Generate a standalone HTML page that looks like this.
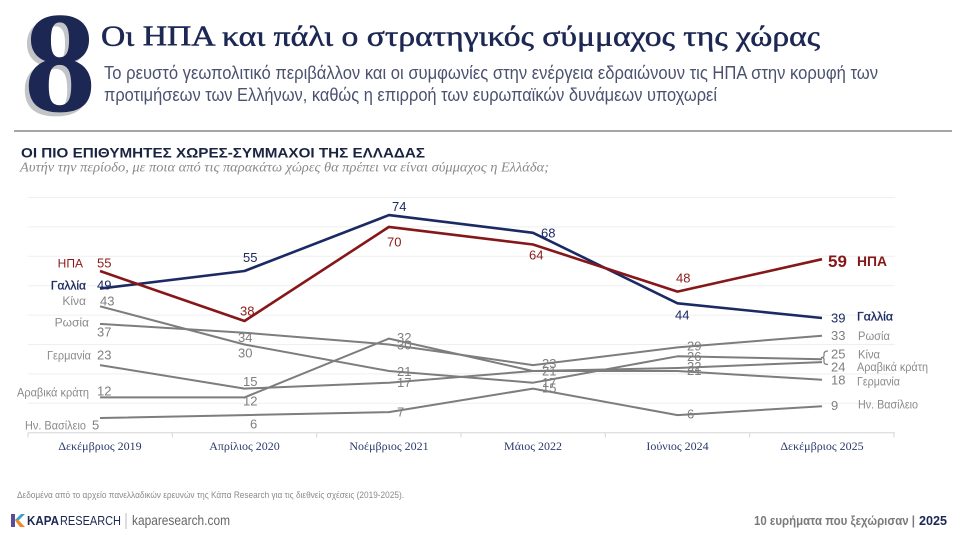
<!DOCTYPE html>
<html>
<head>
<meta charset="utf-8">
<style>
  html,body{margin:0;padding:0;background:#fff;}
  svg{display:block;}
</style>
</head>
<body>
<svg width="960" height="540" viewBox="0 0 960 540" xmlns="http://www.w3.org/2000/svg">
  <rect width="960" height="540" fill="#ffffff"/>

  <!-- Big 8 with shadow -->
  <text x="20" y="115" font-family="Liberation Serif, serif" font-weight="bold" font-size="144" fill="#c2c4c8">8</text>
  <text x="24" y="111" font-family="Liberation Serif, serif" font-weight="bold" font-size="144" fill="#1c2853">8</text>

  <!-- Title -->
  <text x="101" y="45.5" font-family="Liberation Serif, serif" font-size="29" fill="#1c2853" stroke="#1c2853" stroke-width="0.5" textLength="719" lengthAdjust="spacingAndGlyphs">Οι ΗΠΑ και πάλι ο στρατηγικός σύμμαχος της χώρας</text>
  <!-- Subtitle -->
  <text x="104" y="79" font-family="Liberation Sans, sans-serif" font-size="18" fill="#4a5270" textLength="774" lengthAdjust="spacingAndGlyphs">Το ρευστό γεωπολιτικό περιβάλλον και οι συμφωνίες στην ενέργεια εδραιώνουν τις ΗΠΑ στην κορυφή των</text>
  <text x="104" y="101" font-family="Liberation Sans, sans-serif" font-size="18" fill="#4a5270" textLength="613" lengthAdjust="spacingAndGlyphs">προτιμήσεων των Ελλήνων, καθώς η επιρροή των ευρωπαϊκών δυνάμεων υποχωρεί</text>

  <!-- Separator -->
  <line x1="14" y1="131" x2="952" y2="131" stroke="#9a9a9a" stroke-width="1.8"/>

  <!-- Chart heading -->
  <text x="21" y="157.5" font-family="Liberation Sans, sans-serif" font-weight="bold" font-size="14" fill="#1a2340" textLength="404" lengthAdjust="spacingAndGlyphs">ΟΙ ΠΙΟ ΕΠΙΘΥΜΗΤΕΣ ΧΩΡΕΣ-ΣΥΜΜΑΧΟΙ ΤΗΣ ΕΛΛΑΔΑΣ</text>
  <text x="20" y="171.5" font-family="Liberation Serif, serif" font-style="italic" font-size="13.5" fill="#8a8a8a" textLength="529" lengthAdjust="spacingAndGlyphs">Αυτήν την περίοδο, με ποια από τις παρακάτω χώρες θα πρέπει να είναι σύμμαχος η Ελλάδα;</text>

  <!-- Gridlines -->
  <g stroke="#efefef" stroke-width="1">
    <line x1="28" y1="197.5" x2="895" y2="197.5"/>
    <line x1="28" y1="226.9" x2="895" y2="226.9"/>
    <line x1="28" y1="256.3" x2="895" y2="256.3"/>
    <line x1="28" y1="285.7" x2="895" y2="285.7"/>
    <line x1="28" y1="315.1" x2="895" y2="315.1"/>
    <line x1="28" y1="344.5" x2="895" y2="344.5"/>
    <line x1="28" y1="373.9" x2="895" y2="373.9"/>
    <line x1="28" y1="403.3" x2="895" y2="403.3"/>
  </g>
  <!-- Axis baseline and ticks -->
  <g stroke="#d6d6d6" stroke-width="1">
    <line x1="28" y1="432.7" x2="895" y2="432.7"/>
    <line x1="28" y1="432.7" x2="28" y2="437.5"/>
    <line x1="172.3" y1="432.7" x2="172.3" y2="437.5"/>
    <line x1="316.7" y1="432.7" x2="316.7" y2="437.5"/>
    <line x1="461" y1="432.7" x2="461" y2="437.5"/>
    <line x1="605.3" y1="432.7" x2="605.3" y2="437.5"/>
    <line x1="749.7" y1="432.7" x2="749.7" y2="437.5"/>
    <line x1="894" y1="432.7" x2="894" y2="437.5"/>
  </g>

  <!-- X axis labels -->
  <g font-family="Liberation Serif, serif" font-size="12" fill="#2b3a6b" text-anchor="middle">
    <text x="100" y="450">Δεκέμβριος 2019</text>
    <text x="244.5" y="450">Απρίλιος 2020</text>
    <text x="389" y="450">Νοέμβριος 2021</text>
    <text x="533" y="450">Μάιος 2022</text>
    <text x="677.5" y="450">Ιούνιος 2024</text>
    <text x="822" y="450">Δεκέμβριος 2025</text>
  </g>

  <!-- Gray series -->
  <g fill="none" stroke="#7d7d7d" stroke-width="2" stroke-linejoin="round">
    <polyline points="100,306.3 244.5,344.5 389,371.0 533,382.7 677.5,356.3 822,359.2"/>
    <polyline points="100,323.9 244.5,332.7 389,344.5 533,365.1 677.5,347.4 822,335.7"/>
    <polyline points="100,365.1 244.5,388.6 389,382.7 533,371.0 677.5,371.0 822,379.8"/>
    <polyline points="100,397.4 244.5,397.4 389,338.6 533,371.0 677.5,368.0 822,362.1"/>
    <polyline points="100,418.0 244.5,415.1 389,412.1 533,388.6 677.5,415.1 822,406.2"/>
  </g>
  <!-- Γαλλία -->
  <polyline fill="none" stroke="#1c2a63" stroke-width="2.6" stroke-linejoin="round" points="100,288.6 244.5,271.0 389,215.1 533,232.8 677.5,303.3 822,318.0"/>
  <!-- ΗΠΑ -->
  <polyline fill="none" stroke="#861719" stroke-width="2.6" stroke-linejoin="round" points="100,271.0 244.5,321.0 389,226.9 533,244.5 677.5,291.6 822,259.2"/>

  <!-- Bracket at Dec 2025 -->
  <path d="M828,351 Q824,351 824,354 L824,356 Q824,357.5 821,357.5 Q824,357.5 824,359 L824,362 Q824,364.5 828,364.5" fill="none" stroke="#7d7d7d" stroke-width="1.2"/>

  <!-- Left country labels -->
  <g font-family="Liberation Sans, sans-serif" font-size="12" text-anchor="end">
    <text x="83" y="267.5" fill="#8b1a1a">ΗΠΑ</text>
    <text x="86" y="289.5" fill="#1c2a63" stroke="#1c2a63" stroke-width="0.3">Γαλλία</text>
    <text x="86" y="305" fill="#8a8a8a">Κίνα</text>
    <text x="89" y="326.5" fill="#8a8a8a">Ρωσία</text>
    <text x="91" y="359.5" fill="#8a8a8a" textLength="44" lengthAdjust="spacingAndGlyphs">Γερμανία</text>
    <text x="89" y="396.5" fill="#8a8a8a" textLength="72" lengthAdjust="spacingAndGlyphs">Αραβικά κράτη</text>
    <text x="86" y="429.5" fill="#8a8a8a" textLength="61" lengthAdjust="spacingAndGlyphs">Ην. Βασίλειο</text>
  </g>

  <!-- Data labels -->
  <g font-family="Liberation Sans, sans-serif" font-size="13">
    <text x="97" y="267.5" fill="#8b1a1a">55</text>
    <text x="97" y="289.5" fill="#1c2a63">49</text>
    <text x="100" y="305.5" fill="#7f7f7f">43</text>
    <text x="97" y="336.5" fill="#7f7f7f">37</text>
    <text x="97" y="359.5" fill="#7f7f7f">23</text>
    <text x="97" y="395.5" fill="#7f7f7f">12</text>
    <text x="92" y="429.5" fill="#7f7f7f">5</text>
    <text x="243" y="262" fill="#1c2a63">55</text>
    <text x="240" y="315.5" fill="#8b1a1a">38</text>
    <text x="238" y="342" fill="#7f7f7f">34</text>
    <text x="238" y="357.5" fill="#7f7f7f">30</text>
    <text x="243" y="386" fill="#7f7f7f">15</text>
    <text x="243" y="405.5" fill="#7f7f7f">12</text>
    <text x="250" y="428.5" fill="#7f7f7f">6</text>
    <text x="392" y="211" fill="#1c2a63">74</text>
    <text x="387" y="246.5" fill="#8b1a1a">70</text>
    <text x="397" y="342" fill="#7f7f7f">32</text>
    <text x="397" y="349.5" fill="#7f7f7f">30</text>
    <text x="397" y="376" fill="#7f7f7f">21</text>
    <text x="397" y="387" fill="#7f7f7f">17</text>
    <text x="397" y="416.5" fill="#7f7f7f">7</text>
    <text x="541" y="237.5" fill="#1c2a63">68</text>
    <text x="529" y="259.5" fill="#8b1a1a">64</text>
    <text x="542" y="368" fill="#7f7f7f">23</text>
    <text x="542" y="375.5" fill="#7f7f7f">21</text>
    <text x="542" y="387" fill="#7f7f7f">17</text>
    <text x="542" y="392.5" fill="#7f7f7f">15</text>
    <text x="676" y="282.5" fill="#8b1a1a">48</text>
    <text x="675" y="319.5" fill="#1c2a63">44</text>
    <text x="687" y="350.5" fill="#7f7f7f">29</text>
    <text x="687" y="361" fill="#7f7f7f">26</text>
    <text x="687" y="371" fill="#7f7f7f">22</text>
    <text x="687" y="375" fill="#7f7f7f">21</text>
    <text x="687" y="418.5" fill="#7f7f7f">6</text>
    <text x="831" y="322.5" fill="#1c2a63">39</text>
    <text x="831" y="340" fill="#7f7f7f">33</text>
    <text x="831" y="358.5" fill="#7f7f7f">25</text>
    <text x="831" y="371.5" fill="#7f7f7f">24</text>
    <text x="831" y="384.5" fill="#7f7f7f">18</text>
    <text x="831" y="410" fill="#7f7f7f">9</text>
  </g>
  <text x="828" y="267" font-family="Liberation Sans, sans-serif" font-weight="bold" font-size="17" fill="#861719">59</text>
  <text x="857" y="266" font-family="Liberation Sans, sans-serif" font-weight="bold" font-size="13.5" fill="#861719" textLength="30" lengthAdjust="spacingAndGlyphs">ΗΠΑ</text>

  <!-- Right country labels -->
  <g font-family="Liberation Sans, sans-serif" font-size="12">
    <text x="857" y="320.5" fill="#1c2a63" stroke="#1c2a63" stroke-width="0.3" textLength="36" lengthAdjust="spacingAndGlyphs">Γαλλία</text>
    <text x="858" y="340" fill="#8a8a8a" textLength="32" lengthAdjust="spacingAndGlyphs">Ρωσία</text>
    <text x="858" y="358.5" fill="#8a8a8a" textLength="22" lengthAdjust="spacingAndGlyphs">Κίνα</text>
    <text x="857" y="371" fill="#8a8a8a" textLength="71" lengthAdjust="spacingAndGlyphs">Αραβικά κράτη</text>
    <text x="857" y="385.5" fill="#8a8a8a" textLength="43" lengthAdjust="spacingAndGlyphs">Γερμανία</text>
    <text x="858" y="408.5" fill="#8a8a8a" textLength="60" lengthAdjust="spacingAndGlyphs">Ην. Βασίλειο</text>
  </g>

  <!-- Footer source -->
  <text x="17" y="498" font-family="Liberation Sans, sans-serif" font-size="9.5" fill="#8a8a8a" textLength="387" lengthAdjust="spacingAndGlyphs">Δεδομένα από το αρχείο πανελλαδικών ερευνών της Κάπα Research  για τις διεθνείς σχέσεις (2019-2025).</text>

  <!-- Logo -->
  <g>
    <polygon points="11,514 15,514 15,527 11,527" fill="#5b4b9b"/>
    <polygon points="15,520 21,514 25,514 18,521" fill="#3aa0c8"/>
    <polygon points="15,520.5 18,519.5 25,527 20,527" fill="#f0892a"/>
  </g>
  <text x="27" y="525" font-family="Liberation Sans, sans-serif" font-weight="bold" font-size="13" fill="#1c2853" textLength="32" lengthAdjust="spacingAndGlyphs">KAPA</text>
  <text x="60" y="525" font-family="Liberation Sans, sans-serif" font-size="13" fill="#1c2853" textLength="61" lengthAdjust="spacingAndGlyphs">RESEARCH</text>
  <line x1="126" y1="513" x2="126" y2="529" stroke="#bbbbbb" stroke-width="1"/>
  <text x="132" y="525" font-family="Liberation Sans, sans-serif" font-size="13.5" fill="#666666" textLength="98" lengthAdjust="spacingAndGlyphs">kaparesearch.com</text>

  <!-- Footer right -->
  <text x="754" y="525" font-family="Liberation Sans, sans-serif" font-weight="bold" font-size="12.5" fill="#7a7a7a" textLength="161" lengthAdjust="spacingAndGlyphs">10 ευρήματα που ξεχώρισαν |</text>
  <text x="919" y="525" font-family="Liberation Sans, sans-serif" font-weight="bold" font-size="12.5" fill="#1c2853" textLength="28" lengthAdjust="spacingAndGlyphs">2025</text>
</svg>
</body>
</html>
